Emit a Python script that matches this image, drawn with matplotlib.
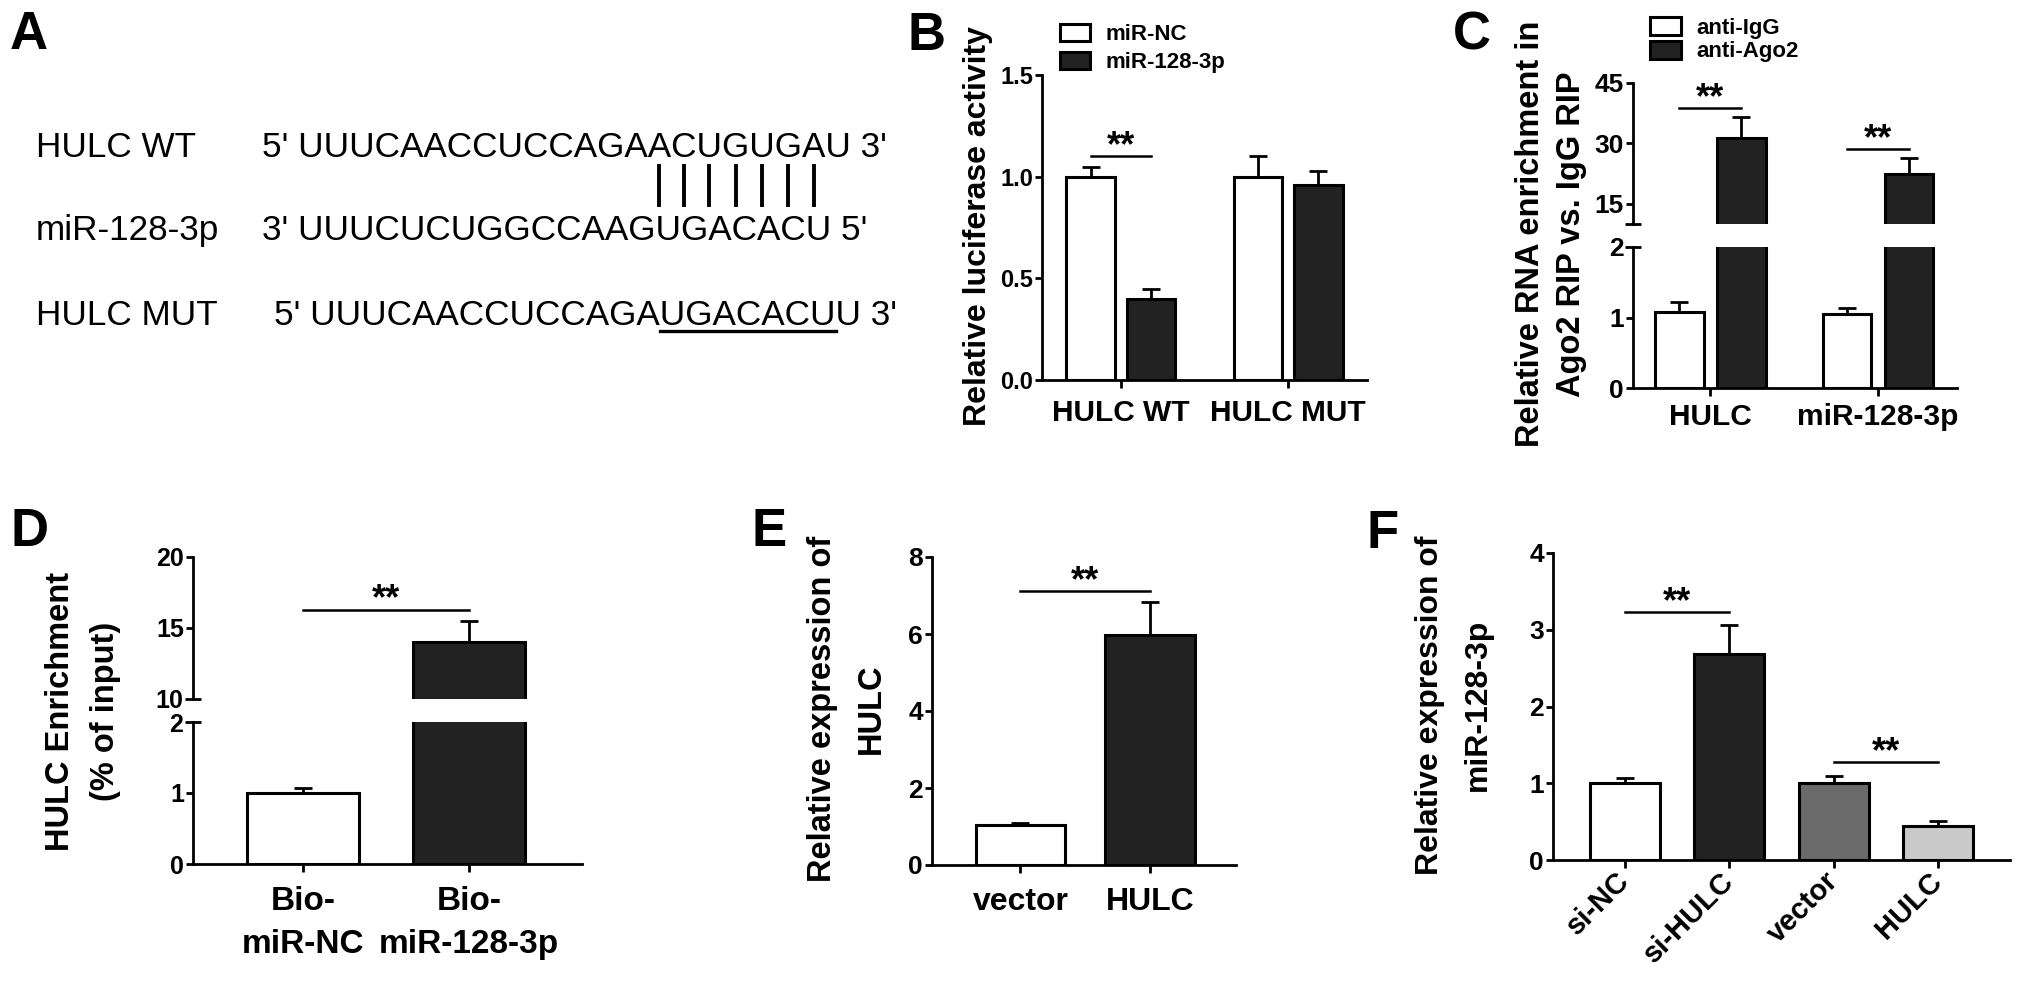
import matplotlib
matplotlib.use('Agg')
import numpy as np
import matplotlib.pyplot as plt
from matplotlib.patches import Patch
from matplotlib.lines import Line2D
from matplotlib.font_manager import FontProperties

FONT = 'Liberation Sans'
plt.rcParams['font.family'] = FONT
plt.rcParams['font.weight'] = 'bold'

W, H = 2031, 1000
DARK = '#222222'

# ---- panel A: sequences ----
seq_names = ['HULC WT', 'miR-128-3p', 'HULC MUT']
seq_ends = [("5' ", " 3'"), ("3' ", " 5'"), ("5' ", " 3'")]
seq_wt = 'UUUCAACCUCCAGAACUGUGAU'
seq_mir = 'UUUCUCUGGCCAAGUGACACU'
seq_mut = 'UUUCAACCUCCAGAUGACACUU'
pair_idx = list(range(14, 21))   # WT bases paired with the seed
mut_span = (14, 21)              # mutated bases (underlined)

# ---- panel B: luciferase ----
b_groups = ['HULC WT', 'HULC MUT']
b_series = ['miR-NC', 'miR-128-3p']
b_nc = [1.00, 1.00]
b_nc_err = [0.05, 0.10]
b_mir = [0.40, 0.96]
b_mir_err = [0.05, 0.07]

# ---- panel C: RIP ----
c_groups = ['HULC', 'miR-128-3p']
c_series = ['anti-IgG', 'anti-Ago2']
c_igg = [1.08, 1.05]
c_igg_err = [0.14, 0.08]
c_ago2 = [31.3, 22.4]
c_ago2_err = [5.2, 4.0]

# ---- panel D: pull-down ----
d_labels = ['Bio-\nmiR-NC', 'Bio-\nmiR-128-3p']
d_vals = [1.0, 14.0]
d_err = [0.07, 1.5]

# ---- panel E ----
e_labels = ['vector', 'HULC']
e_vals = [1.03, 5.97]
e_err = [0.05, 0.86]

# ---- panel F ----
f_labels = ['si-NC', 'si-HULC', 'vector', 'HULC']
f_vals = [1.00, 2.68, 1.00, 0.44]
f_err = [0.07, 0.38, 0.09, 0.07]
f_colors = ['white', DARK, '#6b6b6b', '#c9c9c9']


fig = plt.figure(figsize=(W / 100, H / 100), dpi=100)


def fx(x):
    return x / W


def fy(y):
    return 1 - y / H


def add_ax(l, t, r, b):
    return fig.add_axes([l / W, 1 - b / H, (r - l) / W, (b - t) / H])


def style(ax, bottom=True, xpad=8, xsize=21.5, ysize=17):
    for s in ['top', 'right']:
        ax.spines[s].set_visible(False)
    for s in ['left', 'bottom']:
        ax.spines[s].set_linewidth(2)
    ax.tick_params(axis='y', which='both', direction='out', length=5, width=2,
                   labelsize=ysize, pad=1.5)
    ax.tick_params(axis='y', which='minor', direction='inout', length=11)
    ax.tick_params(axis='x', direction='out', length=6, width=2,
                   labelsize=xsize, pad=xpad)
    if not bottom:
        ax.spines['bottom'].set_visible(False)
        ax.tick_params(axis='x', bottom=False, labelbottom=False)


def bars(ax, x, vals, err, width, color):
    ax.bar(x, vals, width, color=color, edgecolor='black', linewidth=2.2, zorder=2)
    ax.errorbar(x, vals, yerr=[np.zeros(len(vals)), err], fmt='none', ecolor='black',
                elinewidth=2, capsize=6.5, capthick=2, zorder=3)


def sig(ax, x1, x2, y):
    ax.plot([x1, x2], [y, y], color='black', lw=1.8, clip_on=False, zorder=4)
    ax.text((x1 + x2) / 2, y, '**', ha='center', va='baseline', fontsize=26,
            fontweight='bold')


def panel_letter(x, y, s):
    fig.text(fx(x), fy(y), s, fontsize=38, fontweight='bold', ha='left', va='baseline')


def ylabel(x, y, s, size=23, ls=1.2):
    fig.text(fx(x), fy(y), s, rotation=90, ha='center', va='center', fontsize=size,
             fontweight='bold', linespacing=ls, multialignment='center')


# ================= A =================
panel_letter(10, 49, 'A')
fp_a = FontProperties(family=FONT, size=25.3, weight='normal')
renderer = fig.canvas.get_renderer()


def text_w(s):
    w, h, d = renderer.get_text_width_height_descent(s, fp_a, ismath=False)
    return w


baselines = [157, 240, 325]
seq_x = [262, 262, 274]
for name, seq, ends, yb, x0 in zip(seq_names, [seq_wt, seq_mir, seq_mut], seq_ends,
                                   baselines, seq_x):
    fig.text(fx(36), fy(yb), name, fontproperties=fp_a, va='baseline')
    fig.text(fx(x0), fy(yb), ends[0] + seq + ends[1], fontproperties=fp_a, va='baseline')

# pairing bars under the WT sequence
for i in pair_idx:
    pre = seq_ends[0][0] + seq_wt[:i]
    xc = seq_x[0] + (text_w(pre) + text_w(pre + seq_wt[i])) / 2
    fig.add_artist(Line2D([fx(xc), fx(xc)], [fy(166), fy(205)],
                          transform=fig.transFigure, color='black', lw=2.8))

# underline of the mutated bases
pre = seq_ends[2][0] + seq_mut[:mut_span[0]]
u0 = seq_x[2] + text_w(pre)
u1 = seq_x[2] + text_w(seq_ends[2][0] + seq_mut[:mut_span[1]])
fig.add_artist(Line2D([fx(u0), fx(u1)], [fy(331), fy(331)],
                      transform=fig.transFigure, color='black', lw=2.4))

# ================= B =================
panel_letter(908, 50, 'B')
ax = add_ax(1042, 75, 1367, 380)
style(ax, xpad=8, xsize=21.5, ysize=17)
xb = np.arange(len(b_groups))
bars(ax, xb - 0.18, b_nc, b_nc_err, 0.29, 'white')
bars(ax, xb + 0.18, b_mir, b_mir_err, 0.29, DARK)
sig(ax, -0.18, 0.18, 1.10)
ax.set_xlim(-0.47, 1.47)
ax.set_ylim(0, 1.5)
ax.set_yticks([0, 0.5, 1.0, 1.5], ['0.0', '0.5', '1.0', '1.5'])
ax.set_xticks(xb, b_groups)
ylabel(978, 226, 'Relative luciferase activity', size=23)
handles = [Patch(facecolor='white', edgecolor='black', linewidth=2.2),
           Patch(facecolor=DARK, edgecolor='black', linewidth=2.2)]
fig.legend(handles, b_series, loc='upper left', bbox_to_anchor=(fx(1060), fy(24)),
           frameon=False, prop=dict(size=16, weight='bold'), handlelength=1.36,
           handleheight=0.8, handletextpad=0.7, labelspacing=0.3, borderpad=0,
           borderaxespad=0)

# ================= C =================
panel_letter(1453, 50, 'C')
ax_top = add_ax(1633, 83, 1957, 224)
ax_bot = add_ax(1633, 247, 1957, 388)
xc = np.arange(len(c_groups))
for a in (ax_top, ax_bot):
    bars(a, xc - 0.185, c_igg, c_igg_err, 0.29, 'white')
    bars(a, xc + 0.185, c_ago2, c_ago2_err, 0.29, DARK)
    a.set_xlim(-0.46, 1.47)
style(ax_top, bottom=False, ysize=19)
style(ax_bot, xpad=5, xsize=21.5, ysize=19)
ax_top.set_ylim(10, 45)
ax_top.set_yticks([15, 30, 45])
ax_top.set_yticks([10], [''], minor=True)
ax_bot.set_ylim(0, 2)
ax_bot.set_yticks([0, 1])
ax_bot.set_yticks([2], ['2'], minor=True)
ax_bot.set_xticks(xc, c_groups)
sig(ax_top, -0.185, 0.185, 38.8)
sig(ax_top, 0.815, 1.185, 28.6)
ylabel(1551, 234, 'Relative RNA enrichment in\nAgo2 RIP vs. IgG RIP', size=23.5, ls=1.45)
fig.legend(handles, c_series, loc='upper left', bbox_to_anchor=(fx(1650), fy(17)),
           frameon=False, prop=dict(size=16, weight='bold'), handlelength=1.4,
           handleheight=0.85, handletextpad=0.7, labelspacing=0.1, borderpad=0,
           borderaxespad=0)

# ================= D =================
panel_letter(10, 546, 'D')
ax_top = add_ax(193, 557, 582, 699)
ax_bot = add_ax(193, 722, 582, 864)
xd = np.arange(len(d_vals))
for a in (ax_top, ax_bot):
    bars(a, xd, d_vals, d_err, 0.675, ['white', DARK])
    a.set_xlim(-0.663, 1.68)
style(ax_top, bottom=False, ysize=18)
style(ax_bot, xpad=10, xsize=24, ysize=18)
ax_top.set_ylim(10, 20)
ax_top.set_yticks([15, 20])
ax_top.set_yticks([10], ['10'], minor=True)
ax_bot.set_ylim(0, 2)
ax_bot.set_yticks([0, 1])
ax_bot.set_yticks([2], ['2'], minor=True)
ax_bot.set_xticks(xd, d_labels, linespacing=1.5)
sig(ax_top, 0, 1, 16.3)
ylabel(83, 711, 'HULC Enrichment\n(% of input)', size=23.5, ls=1.6)

# ================= E =================
panel_letter(752, 546, 'E')
ax = add_ax(932, 557, 1236, 865)
style(ax, xpad=10, xsize=23, ysize=19)
xe = np.arange(len(e_vals))
bars(ax, xe, e_vals, e_err, 0.69, ['white', DARK])
sig(ax, 0, 1, 7.12)
ax.set_xlim(-0.68, 1.66)
ax.set_ylim(0, 8)
ax.set_yticks([0, 2, 4, 6, 8])
ax.set_xticks(xe, e_labels)
ylabel(847, 709, 'Relative expression of\nHULC', size=23.5, ls=1.75)

# ================= F =================
panel_letter(1367, 548, 'F')
ax = add_ax(1553, 553, 2010, 860)
style(ax, xpad=6, xsize=21, ysize=19)
xf = np.arange(len(f_vals))
bars(ax, xf, f_vals, f_err, 0.67, f_colors)
sig(ax, 0, 1, 3.23)
sig(ax, 2, 3, 1.28)
ax.set_xlim(-0.69, 3.69)
ax.set_ylim(0, 4)
ax.set_yticks([0, 1, 2, 3, 4])
ax.set_xticks(xf, f_labels, rotation=45, ha='right', va='center', rotation_mode='anchor')
ylabel(1454, 705, 'Relative expression of\nmiR-128-3p', size=23, ls=1.75)

fig.savefig('out.png', dpi=100)
